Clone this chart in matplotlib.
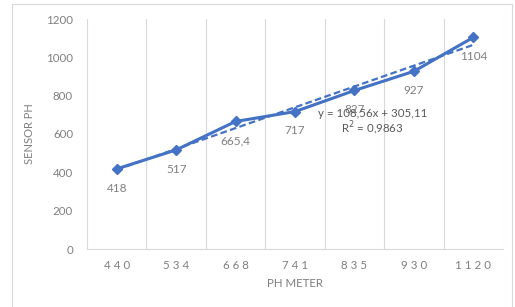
import numpy as np
import matplotlib
matplotlib.use("Agg")
import matplotlib.pyplot as plt
from matplotlib.patches import Rectangle

# data
ph_meter = ["440", "534", "668", "741", "835", "930", "1120"]
sensor_ph = [418, 517, 665.4, 717, 827, 927, 1104]
point_labels = ["418", "517", "665,4", "717", "827", "927", "1104"]
trend_text = "y = 108,56x + 305,11"
r2_text = "R$^2$ = 0,9863"

plt.rcParams['font.family'] = ['Lato', 'DejaVu Sans']

blue = "#4472C4"
grey_txt = "#7f7f7f"
grid_c = "#d9d9d9"

fig = plt.figure(figsize=(5.15, 3.07), dpi=100)
fig.patches.append(Rectangle((12/515, -0.01), 500/515, 1 - 4/307 + 0.01,
                             transform=fig.transFigure, fill=False,
                             edgecolor=grid_c, linewidth=0.8))
ax = fig.add_axes([87/515, 1 - 249/307, 416/515, 230/307])

x = np.arange(1, len(sensor_ph) + 1)
y = np.array(sensor_ph)

# linear trend line (Excel style)
k, b = np.polyfit(x, y, 1)
ax.plot(x, k*x + b, linestyle=(0, (3, 1.5)), color=blue, linewidth=1.6, zorder=3)

ax.plot(x, y, color=blue, linewidth=2.2, marker="D", markersize=5.5, zorder=4)

for xi, yi, lab in zip(x, y, point_labels):
    ax.annotate(lab, (xi, yi), xytext=(0, -10), textcoords="offset points",
                ha="center", va="top", fontsize=8.5, color=grey_txt)

ax.text(5.3, 705, trend_text, ha="center", va="center", fontsize=8.3, color="#595959")
ax.text(5.3, 630, r2_text, ha="center", va="center", fontsize=8.3, color="#595959")

ax.set_xlim(0.5, len(x) + 0.5)
ax.set_ylim(0, 1200)
ax.set_yticks(range(0, 1201, 200))
ax.set_xticks(x)
ax.set_xticklabels([" ".join(s) for s in ph_meter])
ax.set_xticks(np.arange(0.5, len(x) + 1, 1), minor=True)
ax.grid(True, which="minor", axis="x", color=grid_c, linewidth=0.8)
ax.grid(False, which="major")

for s in ["top", "right", "left"]:
    ax.spines[s].set_visible(False)
ax.spines["bottom"].set_color(grid_c)
ax.tick_params(axis="both", which="both", length=0, labelsize=8.3, colors=grey_txt)
ax.tick_params(axis="y", pad=10)
ax.tick_params(axis="x", pad=8)

ax.set_ylabel("SENSOR PH", fontsize=8, color=grey_txt, labelpad=8)
ax.set_xlabel("PH METER", fontsize=8.3, color=grey_txt, labelpad=5)

fig.savefig("out.png", dpi=100)
